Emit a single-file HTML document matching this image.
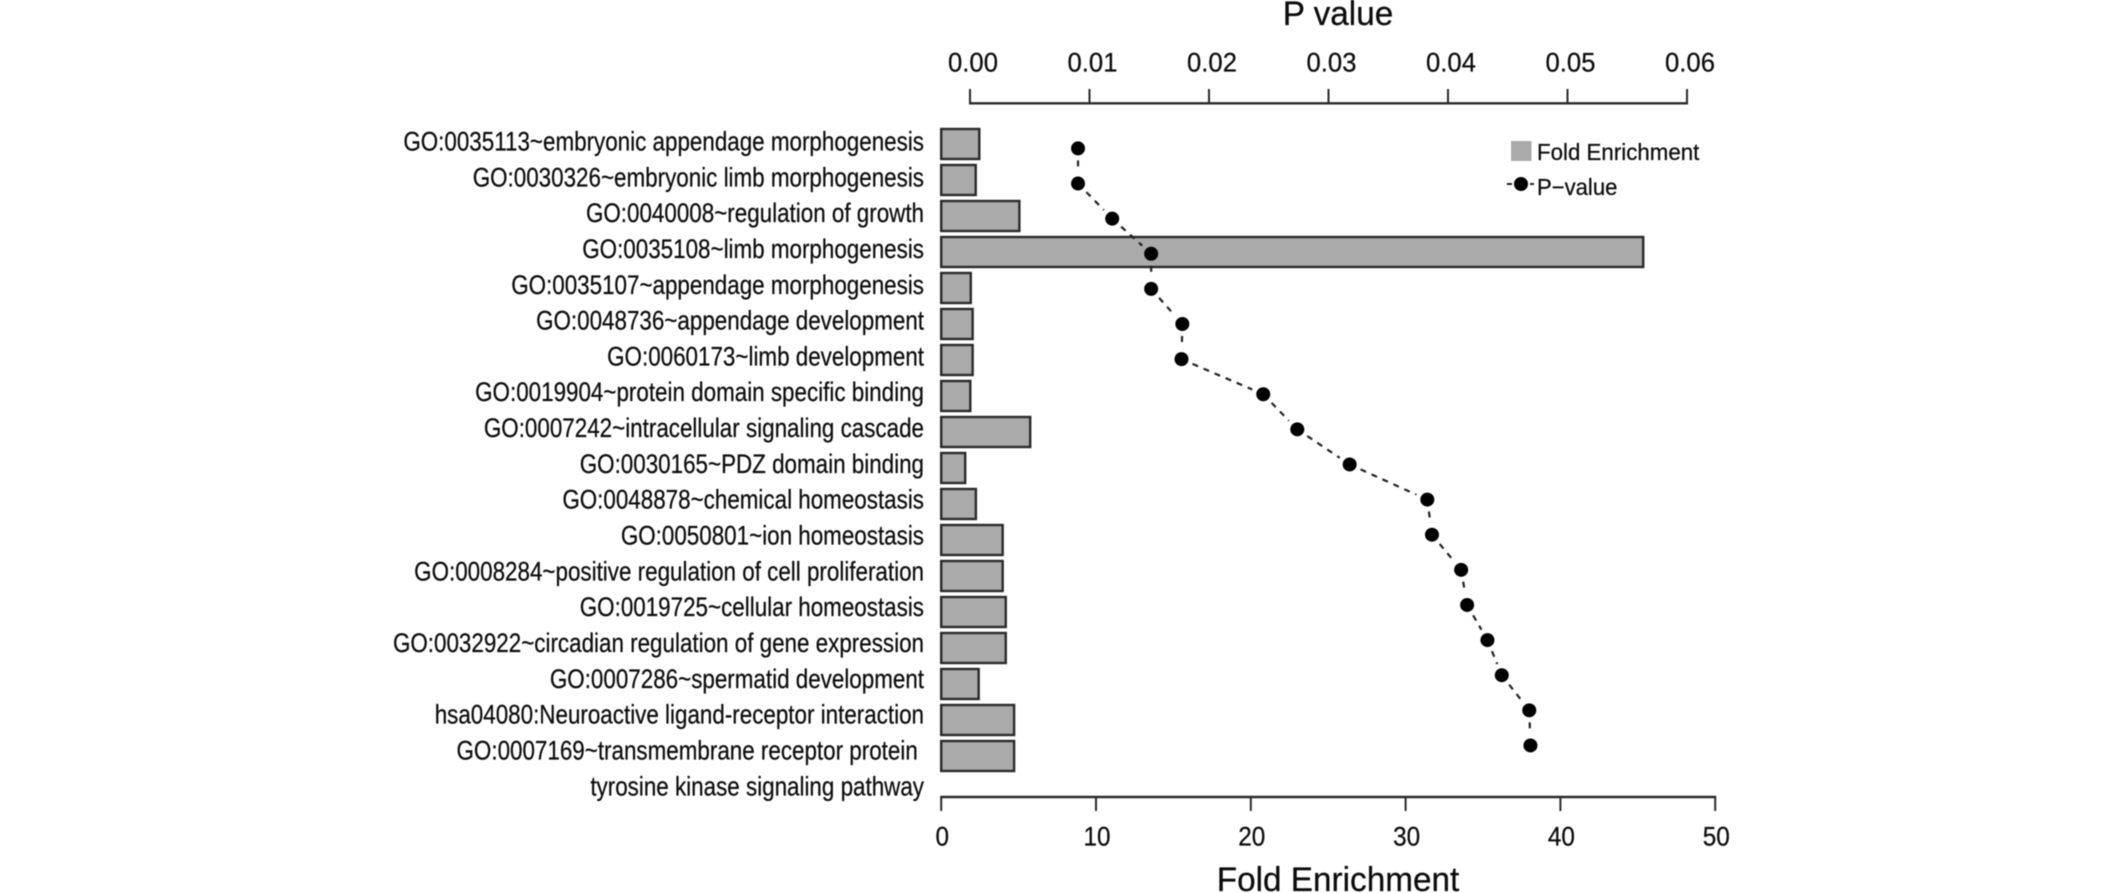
<!DOCTYPE html>
<html lang="en">
<head>
<meta charset="utf-8">
<title>GO enrichment chart</title>
<style>
html,body{margin:0;padding:0;background:#fff;}
svg{display:block;filter:blur(0.4px);}
text{font-family:"Liberation Sans",Arial,sans-serif;fill:#0c0c0c;stroke:#0c0c0c;stroke-width:0.25px;white-space:pre;}
</style>
</head>
<body>
<svg id="chart" xmlns="http://www.w3.org/2000/svg" width="2126" height="893" viewBox="0 0 2126 893"></svg>
<script>
const categories = [
  "GO:0035113~embryonic appendage morphogenesis",
  "GO:0030326~embryonic limb morphogenesis",
  "GO:0040008~regulation of growth",
  "GO:0035108~limb morphogenesis",
  "GO:0035107~appendage morphogenesis",
  "GO:0048736~appendage development",
  "GO:0060173~limb development",
  "GO:0019904~protein domain specific binding",
  "GO:0007242~intracellular signaling cascade",
  "GO:0030165~PDZ domain binding",
  "GO:0048878~chemical homeostasis",
  "GO:0050801~ion homeostasis",
  "GO:0008284~positive regulation of cell proliferation",
  "GO:0019725~cellular homeostasis",
  "GO:0032922~circadian regulation of gene expression",
  "GO:0007286~spermatid development",
  "hsa04080:Neuroactive ligand-receptor interaction",
  "GO:0007169~transmembrane receptor protein \ntyrosine kinase signaling pathway"
];
const foldEnrichment = [2.46,2.23,5.05,45.35,1.91,2.03,2.03,1.88,5.75,1.55,2.24,3.97,3.97,4.17,4.17,2.42,4.71,4.71];
const pValues = [0.00904,0.00904,0.0119,0.01516,0.01516,0.01777,0.0177,0.02454,0.02739,0.03177,0.03827,0.03866,0.0411,0.0416,0.0433,0.0445,0.0468,0.0469];
const foldTicks = [0,10,20,30,40,50];
const pTicks = [0,0.01,0.02,0.03,0.04,0.05,0.06];

const svg = document.getElementById('chart');
const NS = 'http://www.w3.org/2000/svg';

function xFold(v){ return 941.2 + v * 15.48; }
function xP(v){ return 970 + v * 11950; }
function yBar(i){ return 144 + i * 36; }
function yPoint(i){ return 148.4 + i * 35.12; }
function yLabel(i){ return 150.5 + i * 35.82; }

function make(tag, attrs, parent){
  const el = document.createElementNS(NS, tag);
  for (const k in attrs) el.setAttribute(k, attrs[k]);
  (parent || svg).appendChild(el);
  return el;
}
function addText(str, x, y, size, sx, anchor, parent){
  const t = make('text', {transform:'translate(' + x + ',' + y + ') scale(' + sx + ',1)', 'font-size':size, 'text-anchor':anchor}, parent);
  t.textContent = str;
  return t;
}
const STROKE = '#2a2a2a';

/* category labels */
categories.forEach(function(label, i){
  label.split('\n').forEach(function(line, j){
    const t = addText(line, 924, yLabel(i) + j * 36, 27, 0.83, 'end');
    
    
  });
});

/* bars */
foldEnrichment.forEach(function(v, i){
  const r = make('rect', {x:xFold(0), y:yBar(i)-15, width:xFold(v)-xFold(0), height:30, fill:'#aaaaaa', stroke:STROKE, 'stroke-width':2.4});
  
  
});

/* dashed connector segments, with gaps around the points */
pValues.forEach(function(v, i){
  if (i === 0) return;
  const x1 = xP(pValues[i-1]), y1 = yPoint(i-1), x2 = xP(v), y2 = yPoint(i);
  const d = Math.hypot(x2-x1, y2-y1), g = 12 / d;
  const l = make('line', {x1:x1+(x2-x1)*g, y1:y1+(y2-y1)*g, x2:x2-(x2-x1)*g, y2:y2-(y2-y1)*g, stroke:'#222', 'stroke-width':2.2, 'stroke-dasharray':'6 6'});
  
  
});

/* points */
pValues.forEach(function(v, i){
  const c = make('circle', {cx:xP(v), cy:yPoint(i), r:7, fill:'#000'});
  
  
});

/* bottom axis */
const bottomAxis = make('g', {});


make('line', {x1:xFold(foldTicks[0])-1, y1:797, x2:xFold(foldTicks[foldTicks.length-1])+1, y2:797, stroke:STROKE, 'stroke-width':2.4}, bottomAxis);
foldTicks.forEach(function(v){
  make('line', {x1:xFold(v), y1:797, x2:xFold(v), y2:811, stroke:STROKE, 'stroke-width':2}, bottomAxis);
  const t = addText(String(v), xFold(v)+1, 845.7, 27, 0.9, 'middle', bottomAxis);
  
  
});

/* top axis */
const topAxis = make('g', {});


make('line', {x1:xP(pTicks[0])-1, y1:103.3, x2:xP(pTicks[pTicks.length-1])+1, y2:103.3, stroke:STROKE, 'stroke-width':2.4}, topAxis);
pTicks.forEach(function(v){
  make('line', {x1:xP(v), y1:103.3, x2:xP(v), y2:89, stroke:STROKE, 'stroke-width':2}, topAxis);
  const t = addText(v.toFixed(2), xP(v)+3, 71.7, 27, 0.95, 'middle', topAxis);
  
  
});

/* axis titles */
const topTitle = addText('P value', 1338, 25, 34, 0.98, 'middle');


const bottomTitle = addText('Fold Enrichment', 1338, 891, 34, 0.98, 'middle');



/* legend */
const legend = make('g', {});


const swatch = make('rect', {x:1511, y:141, width:20.5, height:20, fill:'#aaaaaa'}, legend);


const legendText1 = addText('Fold Enrichment', 1537, 160, 23, 0.97, 'start', legend);


make('line', {x1:1507, y1:184, x2:1512, y2:184, stroke:'#222', 'stroke-width':2}, legend);
make('line', {x1:1530, y1:184, x2:1534, y2:184, stroke:'#222', 'stroke-width':2}, legend);
const legendPoint = make('circle', {cx:1521, cy:184, r:7, fill:'#000'}, legend);


const legendText2 = addText('P\u2212value', 1537, 195, 23, 0.96, 'start', legend);


</script>
</body>
</html>
